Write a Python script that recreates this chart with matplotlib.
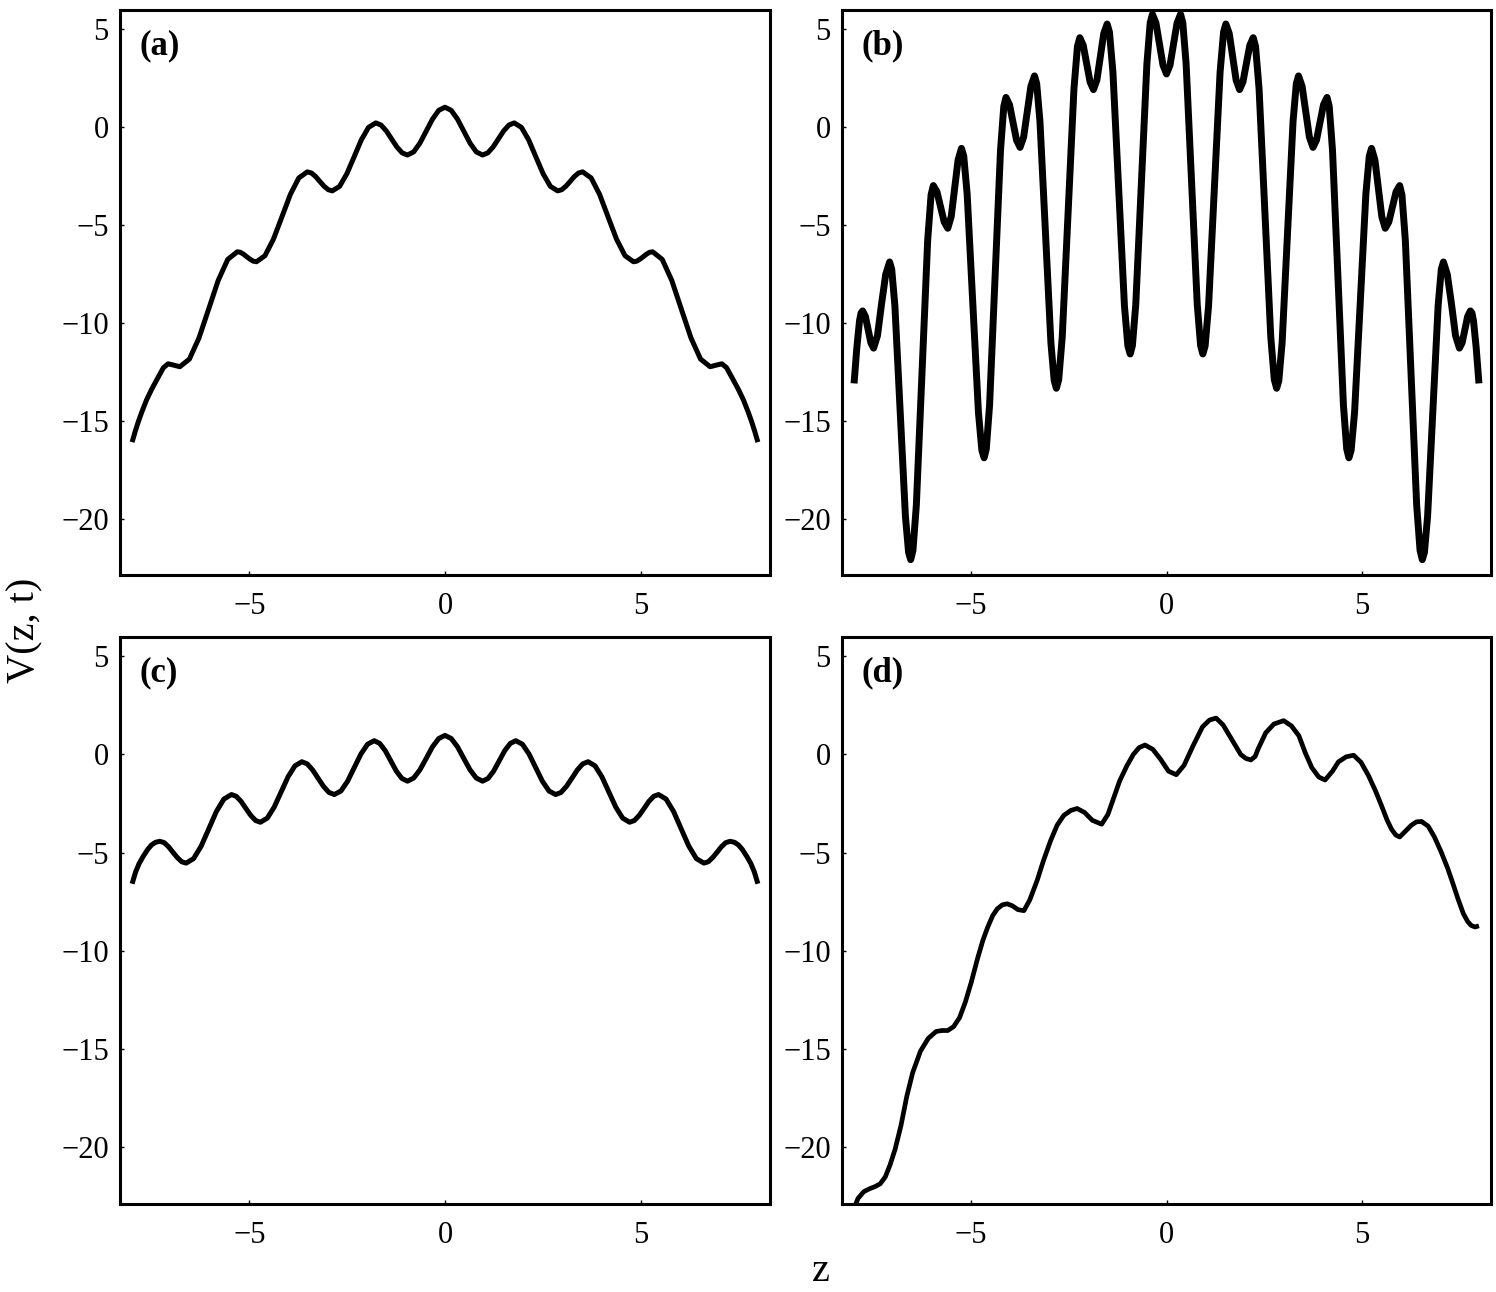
import numpy as np
import matplotlib
matplotlib.use("Agg")
import matplotlib.pyplot as plt

za = [-8.0, -7.92, -7.84, -7.75, -7.63, -7.5, -7.37, -7.2, -7.08, -6.93,
      -6.78, -6.535, -6.29, -6.045, -5.8, -5.555, -5.31, -5.228, -5.147, -5.065,
      -4.983, -4.902, -4.82, -4.603, -4.387, -4.17, -3.953, -3.737, -3.52, -3.413,
      -3.307, -3.2, -3.093, -2.987, -2.88, -2.695, -2.51, -2.325, -2.14, -1.955,
      -1.77, -1.635, -1.5, -1.365, -1.23, -1.095, -0.96, -0.8, -0.64, -0.48,
      -0.32, -0.16, 0.0, 0.16, 0.32, 0.48, 0.64, 0.8, 0.96, 1.095,
      1.23, 1.365, 1.5, 1.635, 1.77, 1.955, 2.14, 2.325, 2.51, 2.695,
      2.88, 2.987, 3.093, 3.2, 3.307, 3.413, 3.52, 3.737, 3.953, 4.17,
      4.387, 4.603, 4.82, 4.902, 4.983, 5.065, 5.147, 5.228, 5.31, 5.555,
      5.8, 6.045, 6.29, 6.535, 6.78, 6.93, 7.08, 7.2, 7.37, 7.5,
      7.63, 7.75, 7.84, 7.92, 8.0]
va = [-16.1, -15.55, -15.05, -14.55, -13.94, -13.4, -12.92, -12.3, -12.1, -12.17,
      -12.25, -11.86, -10.78, -9.32, -7.85, -6.77, -6.38, -6.41, -6.51, -6.64,
      -6.76, -6.86, -6.89, -6.58, -5.74, -4.6, -3.45, -2.61, -2.3, -2.36,
      -2.54, -2.79, -3.03, -3.21, -3.27, -3.04, -2.4, -1.54, -0.67, -0.03,
      0.2, 0.09, -0.21, -0.62, -1.03, -1.33, -1.44, -1.28, -0.83, -0.22,
      0.39, 0.84, 1.0, 0.84, 0.39, -0.22, -0.83, -1.28, -1.44, -1.33,
      -1.03, -0.62, -0.21, 0.09, 0.2, -0.03, -0.67, -1.54, -2.4, -3.04,
      -3.27, -3.21, -3.03, -2.79, -2.54, -2.36, -2.3, -2.61, -3.45, -4.6,
      -5.74, -6.58, -6.89, -6.86, -6.76, -6.64, -6.51, -6.41, -6.38, -6.77,
      -7.85, -9.32, -10.78, -11.86, -12.25, -12.17, -12.1, -12.3, -12.92, -13.4,
      -13.94, -14.55, -15.05, -15.55, -16.1]

zb = [-8.0, -7.93, -7.86, -7.82, -7.78, -7.71, -7.64, -7.57, -7.5, -7.4,
      -7.3, -7.19, -7.09, -7.036, -6.955, -6.82, -6.685, -6.604, -6.55, -6.492,
      -6.405, -6.26, -6.115, -6.028, -5.97, -5.877, -5.785, -5.692, -5.6, -5.512,
      -5.425, -5.337, -5.25, -5.192, -5.105, -4.96, -4.815, -4.728, -4.67, -4.614,
      -4.53, -4.39, -4.25, -4.166, -4.11, -4.02, -3.93, -3.84, -3.75, -3.658,
      -3.565, -3.472, -3.38, -3.324, -3.24, -3.1, -2.96, -2.876, -2.82, -2.76,
      -2.67, -2.52, -2.37, -2.28, -2.22, -2.132, -2.045, -1.957, -1.87, -1.782,
      -1.695, -1.607, -1.52, -1.461, -1.372, -1.225, -1.077, -0.989, -0.93, -0.873,
      -0.787, -0.645, -0.502, -0.417, -0.36, -0.27, -0.18, -0.09, 0.0,
      0.09, 0.18, 0.27, 0.36, 0.417, 0.502, 0.645, 0.787,
      0.873, 0.93, 0.989, 1.077, 1.225, 1.372, 1.461, 1.52, 1.607, 1.695,
      1.782, 1.87, 1.957, 2.045, 2.132, 2.22, 2.28, 2.37, 2.52, 2.67,
      2.76, 2.82, 2.876, 2.96, 3.1, 3.24, 3.324, 3.38, 3.472, 3.565,
      3.658, 3.75, 3.84, 3.93, 4.02, 4.11, 4.166, 4.25, 4.39, 4.53,
      4.614, 4.67, 4.728, 4.815, 4.96, 5.105, 5.192, 5.25, 5.337, 5.425,
      5.512, 5.6, 5.692, 5.785, 5.877, 5.97, 6.028, 6.115, 6.26, 6.405,
      6.492, 6.55, 6.604, 6.685, 6.82, 6.955, 7.036, 7.09, 7.19, 7.3,
      7.4, 7.5, 7.57, 7.64, 7.71, 7.78, 7.82, 7.86, 7.93, 8.0]
vb = [-13.1, -11.3, -9.9, -9.5, -9.4, -9.68, -10.35, -11.02, -11.3, -10.66,
      -9.1, -7.54, -6.9, -7.27, -9.12, -14.5, -19.88, -21.73, -22.1, -21.63,
      -19.31, -12.55, -5.79, -3.47, -3.0, -3.32, -4.09, -4.86, -5.18, -4.58,
      -3.14, -1.7, -1.1, -1.49, -3.41, -9.0, -14.59, -16.51, -16.9, -16.45,
      -14.21, -7.7, -1.19, 1.05, 1.5, 1.13, 0.23, -0.68, -1.05, -0.52,
      0.78, 2.07, 2.6, 2.21, 0.27, -5.38, -11.02, -12.96, -13.35, -12.91,
      -10.74, -4.4, 1.94, 4.11, 4.55, 4.16, 3.23, 2.29, 1.9, 2.39,
      3.58, 4.76, 5.25, 4.84, 2.79, -3.18, -9.14, -11.19, -11.6, -11.17,
      -9.07, -2.93, 3.22, 5.32, 5.75, 5.3, 4.23, 3.15, 2.7,
      3.15, 4.23, 5.3, 5.75, 5.32, 3.22, -2.93, -9.07,
      -11.17, -11.6, -11.19, -9.14, -3.18, 2.79, 4.84, 5.25, 4.76, 3.58,
      2.39, 1.9, 2.29, 3.23, 4.16, 4.55, 4.11, 1.94, -4.4, -10.74,
      -12.91, -13.35, -12.96, -11.02, -5.38, 0.27, 2.21, 2.6, 2.07, 0.78,
      -0.52, -1.05, -0.68, 0.23, 1.13, 1.5, 1.05, -1.19, -7.7, -14.21,
      -16.45, -16.9, -16.51, -14.59, -9.0, -3.41, -1.49, -1.1, -1.7, -3.14,
      -4.58, -5.18, -4.86, -4.09, -3.32, -3.0, -3.47, -5.79, -12.55, -19.31,
      -21.63, -22.1, -21.73, -19.88, -14.5, -9.12, -7.27, -6.9, -7.54, -9.1,
      -10.66, -11.3, -11.02, -10.35, -9.68, -9.4, -9.5, -9.9, -11.3, -13.1]

zc = [-8.0, -7.91, -7.82, -7.72, -7.6, -7.5, -7.4, -7.29, -7.178, -7.067,
      -6.955, -6.843, -6.732, -6.62, -6.427, -6.233, -6.04, -5.847, -5.653, -5.46,
      -5.337, -5.213, -5.09, -4.967, -4.843, -4.72, -4.543, -4.367, -4.19, -4.013,
      -3.837, -3.66, -3.522, -3.383, -3.245, -3.107, -2.968, -2.83, -2.66, -2.49,
      -2.32, -2.15, -1.98, -1.81, -1.668, -1.527, -1.385, -1.243, -1.102, -0.96,
      -0.8, -0.64, -0.48, -0.32, -0.16, 0.0, 0.16, 0.32, 0.48, 0.64,
      0.8, 0.96, 1.102, 1.243, 1.385, 1.527, 1.668, 1.81, 1.98, 2.15,
      2.32, 2.49, 2.66, 2.83, 2.968, 3.107, 3.245, 3.383, 3.522, 3.66,
      3.837, 4.013, 4.19, 4.367, 4.543, 4.72, 4.843, 4.967, 5.09, 5.213,
      5.337, 5.46, 5.653, 5.847, 6.04, 6.233, 6.427, 6.62, 6.732, 6.843,
      6.955, 7.067, 7.178, 7.29, 7.4, 7.5, 7.6, 7.72, 7.82, 7.91,
      8.0]
vc = [-6.58, -5.98, -5.55, -5.2, -4.83, -4.6, -4.47, -4.42, -4.49, -4.7,
      -4.98, -5.25, -5.46, -5.53, -5.3, -4.66, -3.79, -2.91, -2.27, -2.04,
      -2.13, -2.39, -2.75, -3.1, -3.36, -3.45, -3.24, -2.68, -1.91, -1.14,
      -0.58, -0.37, -0.48, -0.79, -1.21, -1.62, -1.93, -2.04, -1.86, -1.36,
      -0.67, 0.02, 0.52, 0.7, 0.56, 0.19, -0.33, -0.85, -1.22, -1.36,
      -1.2, -0.78, -0.2, 0.39, 0.81, 0.97, 0.81, 0.39, -0.2, -0.78,
      -1.2, -1.36, -1.22, -0.85, -0.33, 0.19, 0.56, 0.7, 0.52, 0.02,
      -0.67, -1.36, -1.86, -2.04, -1.93, -1.62, -1.21, -0.79, -0.48, -0.37,
      -0.58, -1.14, -1.91, -2.68, -3.24, -3.45, -3.36, -3.1, -2.75, -2.39,
      -2.13, -2.04, -2.27, -2.91, -3.79, -4.66, -5.3, -5.53, -5.46, -5.25,
      -4.98, -4.7, -4.49, -4.42, -4.47, -4.6, -4.83, -5.2, -5.55, -5.98,
      -6.58]

zd = [-8.0, -7.9, -7.75, -7.6, -7.47, -7.33, -7.2, -7.08, -6.95, -6.8,
      -6.65, -6.5, -6.3, -6.1, -5.9, -5.75, -5.6, -5.45, -5.3, -5.15,
      -5.0, -4.84, -4.7, -4.58, -4.45, -4.33, -4.2, -4.08, -3.95, -3.8,
      -3.65, -3.5, -3.31, -3.15, -2.97, -2.8, -2.63, -2.45, -2.29, -2.1,
      -1.9, -1.66, -1.5, -1.35, -1.2, -1.02, -0.85, -0.7, -0.55, -0.35,
      -0.15, 0.05, 0.25, 0.45, 0.67, 0.92, 1.1, 1.27, 1.45, 1.69,
      1.9, 2.03, 2.16, 2.27, 2.35, 2.54, 2.75, 3.0, 3.2, 3.39,
      3.55, 3.72, 3.9, 4.06, 4.25, 4.4, 4.6, 4.79, 4.98, 5.17,
      5.35, 5.51, 5.65, 5.76, 5.87, 5.97, 6.12, 6.27, 6.4, 6.53,
      6.7, 6.86, 7.03, 7.2, 7.33, 7.46, 7.6, 7.71, 7.8, 7.9,
      8.0]
vd = [-23.1, -22.6, -22.25, -22.1, -22.0, -21.85, -21.5, -20.9, -20.1, -18.9,
      -17.4, -16.2, -15.1, -14.45, -14.1, -14.05, -14.05, -13.85, -13.4, -12.6,
      -11.6, -10.4, -9.45, -8.8, -8.2, -7.85, -7.65, -7.6, -7.7, -7.9,
      -7.95, -7.4, -6.4, -5.4, -4.4, -3.6, -3.1, -2.85, -2.75, -2.95,
      -3.35, -3.55, -3.05, -2.2, -1.35, -0.6, 0.0, 0.35, 0.48, 0.26,
      -0.25, -0.85, -1.03, -0.55, 0.4, 1.4, 1.75, 1.85, 1.5, 0.7,
      0.0, -0.2, -0.28, -0.1, 0.3, 1.1, 1.55, 1.72, 1.45, 0.95,
      0.1, -0.67, -1.15, -1.3, -0.85, -0.38, -0.12, -0.04, -0.4, -1.07,
      -1.85, -2.63, -3.35, -3.8, -4.1, -4.2, -3.9, -3.6, -3.43, -3.41,
      -3.65, -4.2, -4.95, -5.8, -6.55, -7.33, -8.1, -8.5, -8.7, -8.78,
      -8.72]

panels = ["(a)", "(b)", "(c)", "(d)"]
curves = [(za, va), (zb, vb), (zc, vc), (zd, vd)]
widths = [3.6, 5.0, 3.6, 3.4]

plt.rcParams["font.family"] = ["Liberation Serif", "DejaVu Serif"]

fig = plt.figure(figsize=(14.96, 12.92), dpi=100)
boxes = [
    [0.0802, 0.555, 0.4345, 0.4375],
    [0.5628, 0.555, 0.4339, 0.4375],
    [0.0802, 0.0681, 0.4345, 0.4389],
    [0.5628, 0.0681, 0.4339, 0.4389],
]

for i in range(4):
    ax = fig.add_axes(boxes[i])
    z, v = curves[i]
    ax.plot(z, v, color="black", lw=widths[i], solid_joinstyle="round",
            solid_capstyle="butt")
    ax.set_xlim(-8.31, 8.31)
    ax.set_ylim(-22.88, 5.98)
    ax.set_xticks([-5, 0, 5])
    ax.set_yticks([5, 0, -5, -10, -15, -20])
    ax.tick_params(direction="in", length=3, width=1, labelsize=22,
                   pad=8)
    ax.tick_params(axis="x", pad=12)
    for s in ax.spines.values():
        s.set_linewidth(2.2)
    ax.text(0.03, 0.965, panels[i], transform=ax.transAxes, ha="left",
            va="top", fontsize=25, fontweight="bold")

fig.text(0.0167, 0.512, "V(z, t)", rotation=90, ha="center", va="center",
         fontsize=29)
fig.text(0.549, 0.016, "z", ha="center", va="center", fontsize=29)

fig.savefig("out.png", dpi=100)
